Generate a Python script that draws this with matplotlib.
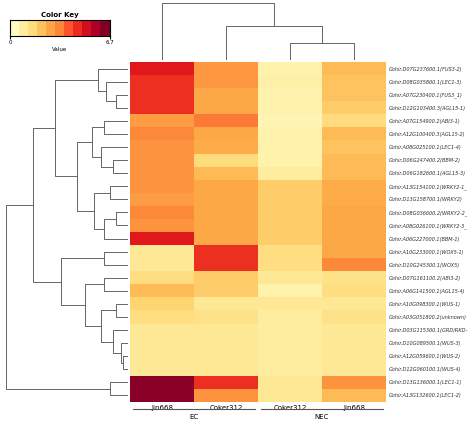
import numpy as np
import matplotlib
matplotlib.use('Agg')
import matplotlib.pyplot as plt
from matplotlib.colors import ListedColormap

genes = ['Gohir.D07G237600.1(FUS3-2)', 'Gohir.D08G035800.1(LEC1-3)', 'Gohir.A07G230400.1(FUS3_1)',
         'Gohir.D12G103400.3(AGL15-1)', 'Gohir.A07G154900.2(ABI3-1)', 'Gohir.A12G100400.3(AGL15-2)',
         'Gohir.A08G025100.1(LEC1-4)', 'Gohir.D06G247400.2(BBM-2)', 'Gohir.D06G182600.1(AGL15-3)',
         'Gohir.A13G154100.1(WRKY2-1_', 'Gohir.D13G158700.1(WRKY2)', 'Gohir.D08G036600.2(WRKY2-2_',
         'Gohir.A08G026100.1(WRKY2-3_', 'Gohir.A06G227000.1(BBM-1)', 'Gohir.A10G233000.1(WOX5-1)',
         'Gohir.D10G245300.1(WOX5)', 'Gohir.D07G161100.2(ABI3-2)', 'Gohir.A06G141500.1(AGL15-4)',
         'Gohir.A10G098300.1(WUS-1)', 'Gohir.A03G051800.2(unknown)', 'Gohir.D03G115300.1(GRD/RKD-',
         'Gohir.D10G089500.1(WUS-3)', 'Gohir.A12G059600.1(WUS-2)', 'Gohir.D12G060100.1(WUS-4)',
         'Gohir.D13G136000.1(LEC1-1)', 'Gohir.A13G132600.1(LEC1-2)']
samples = ['Jin668', 'Coker312', 'Coker312', 'Jin668']
groups = ['EC', 'NEC']

# columns: Jin668 EC, Coker312 EC, Coker312 NEC, Jin668 NEC
values = np.array([
    [5.0, 3.0, 0.4, 2.2], [4.6, 3.0, 0.5, 2.0], [4.6, 2.6, 0.4, 2.0], [4.6, 2.6, 0.4, 1.8],
    [2.9, 3.5, 0.3, 1.4], [3.3, 2.6, 0.4, 2.2], [3.1, 2.5, 0.4, 2.0], [3.1, 1.4, 0.4, 2.2],
    [3.1, 2.2, 0.7, 2.2], [3.1, 2.6, 1.8, 2.5], [2.9, 2.6, 1.8, 2.5], [3.3, 2.6, 1.8, 2.6],
    [3.1, 2.6, 1.8, 2.6], [5.0, 2.6, 1.8, 2.6], [0.9, 4.6, 1.3, 2.6], [0.9, 4.6, 1.3, 3.3],
    [1.3, 1.8, 0.9, 1.1], [2.2, 1.8, 0.4, 1.3], [1.6, 0.9, 0.9, 0.9], [1.3, 1.1, 0.7, 1.1],
    [0.9, 0.9, 0.7, 0.9], [0.9, 0.9, 0.7, 0.9], [0.9, 0.9, 0.7, 0.9], [0.9, 0.9, 0.7, 0.9],
    [6.5, 4.6, 0.9, 3.1], [6.5, 3.1, 0.9, 2.2]])
vmax = 6.7

# cluster trees: (height, left, right) or leaf index
row_tree = (1.0,
            (0.78,
             (0.6,
              (0.25, 0, (0.18, 1, (0.1, 2, 3))),
              (0.42,
               (0.3, (0.2, 4, 5), (0.22, 6, (0.12, 7, 8))),
               (0.28, (0.15, 9, 10), (0.2, (0.1, 11, 12), 13)))),
             (0.55,
              (0.2, 14, 15),
              (0.35, (0.2, 16, 17), (0.22, (0.1, 18, 19), (0.12, 20, (0.06, 21, (0.04, 22, 23))))))),
            (0.15, 24, 25))
col_tree = (1.0, 0, (0.6, 1, (0.3, 2, 3)))

cmap = ListedColormap(plt.cm.YlOrRd(np.linspace(0.03, 1.0, 256)))
key_cmap = ListedColormap(plt.cm.YlOrRd(np.linspace(0.03, 1.0, 11)))


def draw_tree(ax, node, orient):
    # returns (position, height)
    if not isinstance(node, tuple):
        return node, 0.0
    h, l, r = node
    pl, hl = draw_tree(ax, l, orient)
    pr, hr = draw_tree(ax, r, orient)
    if orient == 'left':
        ax.plot([hl, h, h, hr], [pl, pl, pr, pr], color='#666666', lw=0.7)
    else:
        ax.plot([pl, pl, pr, pr], [hl, h, h, hr], color='#666666', lw=0.7)
    return (pl + pr) / 2, h


fig = plt.figure(figsize=(4.74, 4.29), dpi=100)
W, H = 474, 429
hx0, hx1, hy0, hy1 = 130, 386, 62, 402

ax = fig.add_axes([hx0 / W, 1 - hy1 / H, (hx1 - hx0) / W, (hy1 - hy0) / H])
ax.imshow(values, cmap=cmap, vmin=0, vmax=vmax, aspect='auto', interpolation='nearest')
ax.set_xticks(range(4))
ax.set_xticklabels(samples, fontsize=5)
ax.set_yticks(range(len(genes)))
ax.yaxis.tick_right()
ax.set_yticklabels(genes, fontsize=3.6, style='italic', color='#333333')
ax.tick_params(length=0, pad=2)
for s in ax.spines.values():
    s.set_visible(False)
ax.text(0.5, -0.035, groups[0], transform=ax.get_xaxis_transform(), ha='center', va='top', fontsize=5)
ax.text(2.5, -0.035, groups[1], transform=ax.get_xaxis_transform(), ha='center', va='top', fontsize=5)
ax.plot([-0.45, 1.45], [-0.02, -0.02], transform=ax.get_xaxis_transform(), color='#555555', lw=0.8, clip_on=False)
ax.plot([1.55, 3.45], [-0.02, -0.02], transform=ax.get_xaxis_transform(), color='#555555', lw=0.8, clip_on=False)

axr = fig.add_axes([4 / W, 1 - hy1 / H, (hx0 - 6) / W, (hy1 - hy0) / H])
draw_tree(axr, row_tree, 'left')
axr.set_ylim(len(genes) - 0.5, -0.5)
axr.set_xlim(1.02, 0)
axr.axis('off')

axc = fig.add_axes([hx0 / W, 1 - 60 / H, (hx1 - hx0) / W, 58 / H])
draw_tree(axc, col_tree, 'top')
axc.set_xlim(-0.5, 3.5)
axc.set_ylim(0, 1.02)
axc.axis('off')

axk = fig.add_axes([10 / W, 1 - 36 / H, 100 / W, 16 / H])
axk.imshow(np.linspace(0, vmax, 100)[None, :], cmap=key_cmap, vmin=0, vmax=vmax, aspect='auto',
           extent=[0, vmax, 0, 1])
axk.set_yticks([])
axk.set_xticks([0, vmax])
axk.set_xticklabels(['0', '6.7'], fontsize=4)
axk.tick_params(length=2, pad=1)
axk.set_xlabel('Value', fontsize=4, labelpad=1)
axk.set_title('Color Key', fontsize=5, fontweight='bold', pad=2)

fig.savefig('out.png', dpi=100)
